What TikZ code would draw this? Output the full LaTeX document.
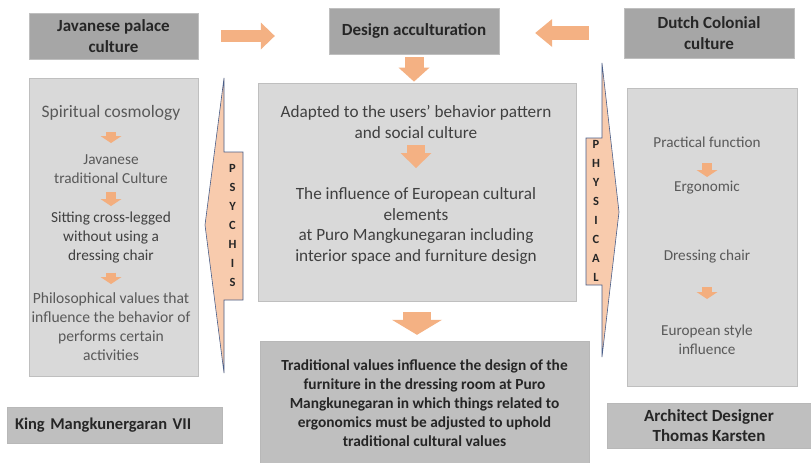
\documentclass[tikz,border=0pt]{standalone}
\usepackage{fontspec}
\setmainfont{Carlito}
\usetikzlibrary{shapes,arrows,arrows.meta,positioning,calc}
\definecolor{titlegray}{HTML}{A6A6A6}
\definecolor{boxgray}{HTML}{BFBFBF}
\definecolor{panelgray}{HTML}{D9D9D9}
\definecolor{peach}{HTML}{F4B183}
\definecolor{lightpeach}{HTML}{F8CBAD}
\definecolor{tinypeach}{HTML}{F3AE7E}
\definecolor{slate}{HTML}{4A5F8A}
\definecolor{textgray}{HTML}{595959}
\definecolor{midtext}{HTML}{404040}
\definecolor{darktext}{HTML}{262626}

\begin{document}
\begin{tikzpicture}[
        x=1pt, y=-1pt,
        head/.style={rectangle, draw=boxgray, fill=titlegray, text=darktext, font=\fontsize{17}{20.5}\selectfont\bfseries, align=center, inner sep=0pt},
        panel/.style={rectangle, draw=boxgray, line width=0.8pt, fill=panelgray, inner sep=0pt},
        note/.style={rectangle, draw=titlegray!80, fill=boxgray, text=darktext, font=\fontsize{15.4}{19}\selectfont\bfseries, align=center, inner sep=0pt},
        ltext/.style={align=center, inner sep=0pt, text=textgray, font=\fontsize{15.3}{18.7}\selectfont},
        ctext/.style={align=center, inner sep=0pt, text=midtext, font=\fontsize{17.2}{20.8}\selectfont},
        rtext/.style={align=center, inner sep=0pt, text=textgray, font=\fontsize{15.2}{18.5}\selectfont},
        vletters/.style={align=center, inner sep=0pt, text=darktext, font=\fontsize{12.5}{19}\selectfont\bfseries},
        callout/.style={fill=lightpeach, draw=slate, line width=0.6pt},
        fat/.style={draw=peach},
        tiny/.style={draw=tinypeach, line width=10pt, -{Triangle[width=21pt,length=7pt,line width=0pt,fill=tinypeach]}}
    ]
    \fill[white] (0,0) rectangle (811,463);
    \useasboundingbox (0,0) rectangle (811,463);

    % sources and acculturation
    \node[head, minimum width=169pt, minimum height=46pt] (javanese) at (113.5,36) {Javanese palace\\culture};
    \node[head, minimum width=170pt, minimum height=46pt] (design) at (414,31) {Design acculturation};
    \node[head, minimum width=170pt, minimum height=50pt] (dutch) at (709,33) {Dutch Colonial\\culture};

    % panels
    \node[panel, minimum width=169pt, minimum height=298pt] (lpanel) at (113.5,227) {};
    \node[panel, minimum width=318pt, minimum height=218pt] (cpanel) at (417,192) {};
    \node[panel, minimum width=170pt, minimum height=298pt] (rpanel) at (712,237) {};

    % psychis / physical callouts
    \draw[callout] (224,78) -- (224,152) -- (243,152) -- (243,300) -- (224,300) -- (224,373) -- (205,225) -- cycle;
    \draw[callout] (602,63) -- (619,212) -- (602,357) -- (602,285) -- (586,285) -- (586,138) -- (602,138) -- cycle;
    \node[vletters] (psychis) at (232.5,225) {P\\S\\Y\\C\\H\\I\\S};
    \node[vletters] (physical) at (596,211) {P\\H\\Y\\S\\I\\C\\A\\L};

    % left panel
    \node[ltext, font=\fontsize{17.5}{21}\selectfont] (cosmo) at (111,113) {Spiritual cosmology};
    \node[ltext, below of=cosmo, node distance=56pt] (tradition) {Javanese\\traditional Culture};
    \node[ltext, text=midtext, below of=tradition, node distance=68.5pt] (sitting) {Sitting cross-legged\\without using a\\dressing chair};
    \node[ltext, font=\fontsize{15.6}{19}\selectfont, below of=sitting, node distance=89.5pt] (values) {Philosophical values that\\influence the behavior of\\performs certain\\activities};

    \draw[tiny, shorten <=19pt, shorten >=26pt] (cosmo.center) -- (tradition.center);
    \draw[tiny, shorten <=23pt, shorten >=31.5pt] (tradition.center) -- (sitting.center);
    \draw[tiny, shorten <=35pt, shorten >=43pt] (sitting.center) -- (values.center);

    % centre panel
    \node[ctext] (adapted) at (416,122) {Adapted to the users’ behavior pattern\\and social culture};
    \node[ctext, below of=adapted, node distance=104pt] (european) {The influence of European cultural\\elements\\at Puro Mangkunegaran including\\interior space and furniture design};
    \draw[fat, line width=18pt, -{Triangle[width=31pt,length=15pt,line width=0pt]}, shorten <=23pt, shorten >=58pt] (adapted.center) -- (european.center);

    % right panel
    \node[rtext] (practical) at (707,142) {Practical function};
    \node[rtext, below of=practical, node distance=46pt] (ergonomic) {Ergonomic};
    \node[rtext, below of=ergonomic, node distance=69pt] (chair) {Dressing chair};
    \node[rtext, below of=chair, node distance=83pt] (style) {European style\\influence};

    \draw[tiny, shorten <=21pt, shorten >=11pt] (practical.center) -- (ergonomic.center);
    \draw[tiny, shorten <=30pt, shorten >=41pt] (chair.center) -- (style.center);

    % result and actors
    \node[note, minimum width=329pt, minimum height=125pt] (result) at (424.5,403.5) {Traditional values influence the design of the\\furniture in the dressing room at Puro\\Mangkunegaran in which things related to\\ergonomics must be adjusted to uphold\\traditional cultural values};
    \node[note, font=\fontsize{16.5}{20}\selectfont\bfseries, minimum width=215pt, minimum height=36pt, text width=199pt, align=left] (king) at (114.5,425) {King Mangkunergaran VII};
    \node[note, font=\fontsize{17}{20}\selectfont\bfseries, minimum width=204pt, minimum height=45pt] (karsten) at (709,425.5) {Architect Designer\\Thomas Karsten};

    % block arrows
    \draw[fat, line width=12pt, -{Triangle[width=27pt,length=14pt,line width=0pt]}, shorten <=23pt, shorten >=54pt] (javanese.east) -- (javanese.east -| design.west);
    \draw[fat, line width=14pt, -{Triangle[width=28pt,length=17pt,line width=0pt]}, shorten <=35pt, shorten >=36pt] (dutch.west) -- (dutch.west -| design.east);
    \draw[fat, line width=19pt, -{Triangle[width=31pt,length=14pt,line width=0pt]}, shorten <=3pt, shorten >=1pt] (design.south) -- (design.south |- cpanel.north);
    \draw[fat, line width=28pt, -{Triangle[width=50pt,length=15pt,line width=0pt]}, shorten <=11pt, shorten >=6pt] (cpanel.south) -- (cpanel.south |- result.north);

\end{tikzpicture}
\end{document}
